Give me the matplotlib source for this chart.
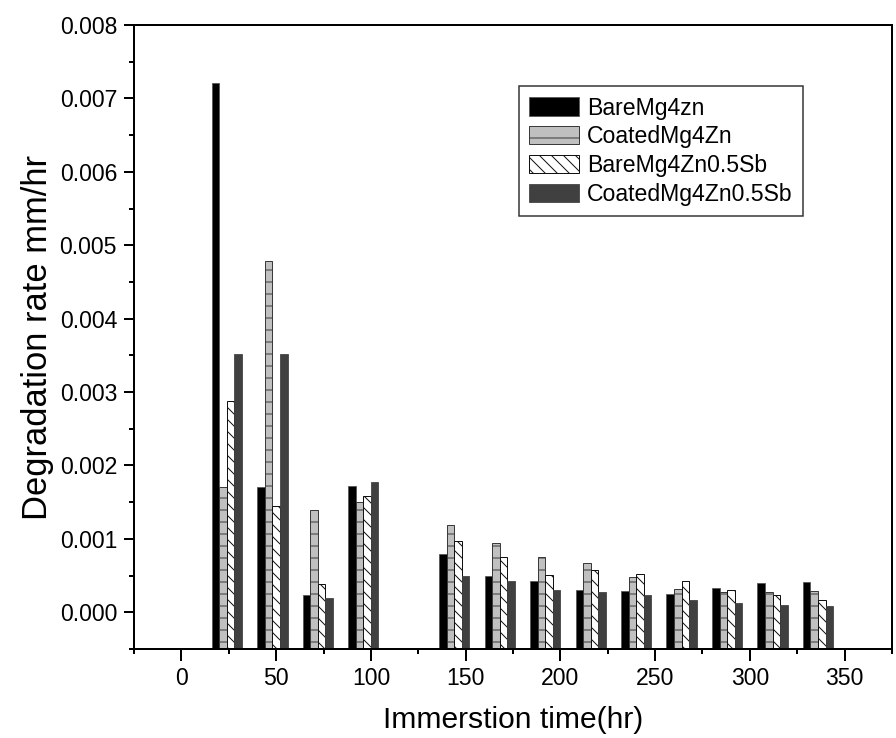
import matplotlib.pyplot as plt
import numpy as np
from matplotlib.ticker import MultipleLocator

plt.rcParams['font.family'] = ['Liberation Sans', 'DejaVu Sans']
plt.rcParams['hatch.linewidth'] = 1.0

# immersion times (hr)
times = np.array([24, 48, 72, 96, 144, 168, 192, 216, 240, 264, 288, 312, 336])

bare_mg4zn = [0.00721, 0.00170, 0.00024, 0.00172, 0.00080, 0.00049, 0.00043,
              0.00031, 0.00029, 0.00025, 0.00033, 0.00040, 0.00041]
coated_mg4zn = [0.00170, 0.00479, 0.00139, 0.00150, 0.00119, 0.00094, 0.00075,
                0.00067, 0.00048, 0.00032, 0.00028, 0.00027, 0.00029]
bare_mg4zn_sb = [0.00288, 0.00145, 0.00039, 0.00159, 0.00097, 0.00075, 0.00051,
                 0.00058, 0.00052, 0.00042, 0.00031, 0.00024, 0.00017]
coated_mg4zn_sb = [0.00352, 0.00352, 0.00020, 0.00177, 0.00050, 0.00043, 0.00031,
                   0.00027, 0.00024, 0.00017, 0.00012, 0.00010, 0.00009]

labels = ['BareMg4zn', 'CoatedMg4Zn', 'BareMg4Zn0.5Sb', 'CoatedMg4Zn0.5Sb']

# dpi 72 so that 1pt == 1px
fig = plt.figure(figsize=(896 / 72, 738 / 72), dpi=72)
ax = fig.add_axes([0.1496, 0.1206, 0.8459, 0.8455])

base = -0.0005  # bars are drawn up from the bottom axis
w = 4
ax.bar(times - 6, np.array(bare_mg4zn) - base, w, bottom=base, color='black',
       edgecolor='#555555', linewidth=0.8, label=labels[0])
ax.bar(times - 2, np.array(coated_mg4zn) - base, w, bottom=base, color='#c0c0c0',
       edgecolor='#3a3a3a', linewidth=1.0, hatch='-', label=labels[1])
ax.bar(times + 2, np.array(bare_mg4zn_sb) - base, w, bottom=base, color='white',
       edgecolor='#111111', linewidth=1.0, hatch='\\\\', label=labels[2])
ax.bar(times + 6, np.array(coated_mg4zn_sb) - base, w, bottom=base, color='#404040',
       edgecolor='#404040', linewidth=0.8, label=labels[3])

ax.set_xlim(-25, 375)
ax.set_ylim(-0.0005, 0.008)
ax.xaxis.set_minor_locator(MultipleLocator(25))
ax.yaxis.set_minor_locator(MultipleLocator(0.0005))
ax.set_xticks([0, 50, 100, 150, 200, 250, 300, 350])
ax.set_yticks([0.000, 0.001, 0.002, 0.003, 0.004, 0.005, 0.006, 0.007, 0.008])
ax.set_yticklabels(['%.3f' % v for v in ax.get_yticks()])

for s in ax.spines.values():
    s.set_linewidth(2)
ax.tick_params(which='major', direction='out', length=10, width=2, labelsize=23)
ax.tick_params(axis='x', which='major', length=12, pad=6)
ax.tick_params(axis='y', which='major', pad=7)
ax.tick_params(which='minor', direction='out', length=5, width=2)

ax.set_xlabel('Immerstion time(hr)', fontsize=30, labelpad=16)
ax.set_ylabel('Degradation rate mm/hr', fontsize=34.5, labelpad=6)

leg = ax.legend(loc='upper left', bbox_to_anchor=(0.508, 0.902), fontsize=23,
                frameon=True, fancybox=False, edgecolor='#333333', framealpha=1,
                handlelength=2.15, handleheight=0.85, labelspacing=0.25,
                handletextpad=0.35, borderpad=0.45, borderaxespad=0)
leg.get_frame().set_linewidth(1.5)

plt.savefig('out.png', dpi=72)
